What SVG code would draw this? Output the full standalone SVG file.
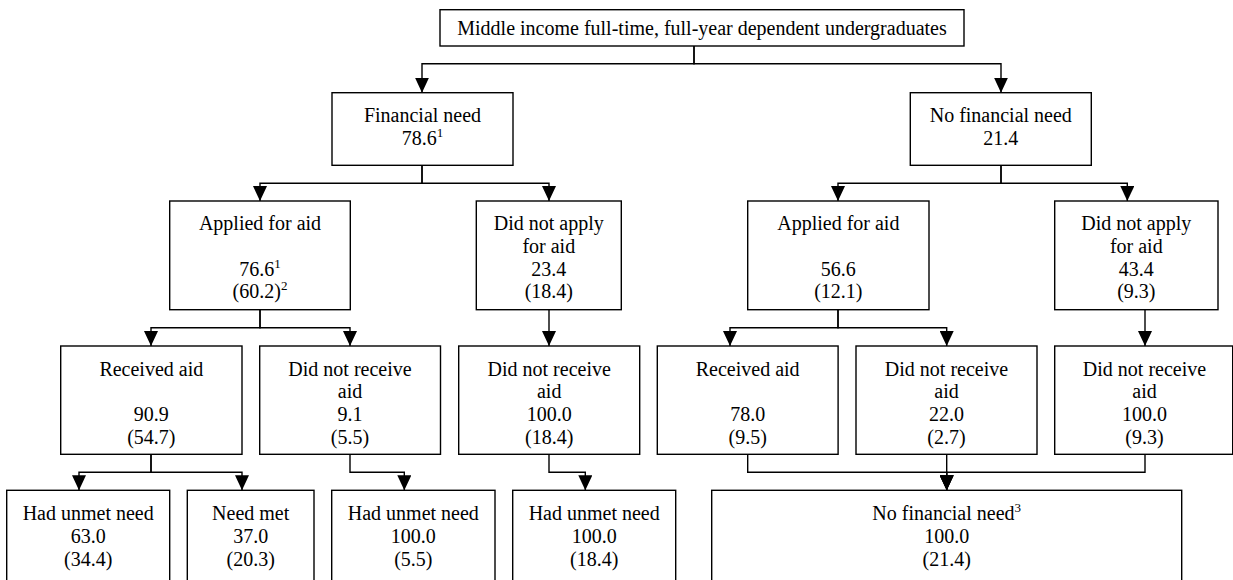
<svg xmlns="http://www.w3.org/2000/svg" width="1233" height="580" viewBox="0 0 1233 580">
<style>
.box{fill:#fff;stroke:#000;stroke-width:1.4}
.t{font-family:"Liberation Serif","Times New Roman",serif;font-size:20px;fill:#000;text-anchor:middle}
.sup{font-size:13px}
.c{fill:none;stroke:#000;stroke-width:1.4}
</style>
<defs>
<marker id="ah" viewBox="0 0 15 14" refX="15" refY="7" markerWidth="15" markerHeight="14" markerUnits="userSpaceOnUse" orient="auto">
<path d="M0,0 L15,7 L0,14 Z" fill="#000"/>
</marker>
</defs>
<rect width="1233" height="580" fill="#fff"/>
<g id="connectors">
<path class="c" d="M694,46 V63.7 H422 V92.7" marker-end="url(#ah)"/>
<path class="c" d="M694,46 V63.7 H1001 V92.7" marker-end="url(#ah)"/>
<path class="c" d="M422,165.3 V183.3 H260 V201" marker-end="url(#ah)"/>
<path class="c" d="M422,165.3 V183.3 H549 V201" marker-end="url(#ah)"/>
<path class="c" d="M1001,165.3 V183.3 H838 V201" marker-end="url(#ah)"/>
<path class="c" d="M1001,165.3 V183.3 H1127.3 V201" marker-end="url(#ah)"/>
<path class="c" d="M260,309.7 V327.7 H151 V346" marker-end="url(#ah)"/>
<path class="c" d="M260,309.7 V327.7 H350 V346" marker-end="url(#ah)"/>
<path class="c" d="M549,309.7 V346" marker-end="url(#ah)"/>
<path class="c" d="M838,309.7 V327.7 H730 V346" marker-end="url(#ah)"/>
<path class="c" d="M838,309.7 V327.7 H946.7 V346" marker-end="url(#ah)"/>
<path class="c" d="M1145,309.7 V346" marker-end="url(#ah)"/>
<path class="c" d="M151,454.3 V472.3 H79 V490.3" marker-end="url(#ah)"/>
<path class="c" d="M151,454.3 V472.3 H242 V490.3" marker-end="url(#ah)"/>
<path class="c" d="M350,454.3 V472.3 H404.3 V490.3" marker-end="url(#ah)"/>
<path class="c" d="M549,454.3 V472.3 H585.3 V490.3" marker-end="url(#ah)"/>
<path class="c" d="M747.7,454.3 V472.3 H946.7 V490.3" marker-end="url(#ah)"/>
<path class="c" d="M946.7,454.3 V490.3" marker-end="url(#ah)"/>
<path class="c" d="M1145,454.3 V472.3 H946.7 V490.3" marker-end="url(#ah)"/>
</g>
<g id="root">
<rect class="box" x="440" y="9.7" width="524" height="36.3"/>
<text class="t" x="702" y="35">Middle income full-time, full-year dependent undergraduates</text>
</g>
<g id="fin-need">
<rect class="box" x="332" y="92.7" width="181" height="72.6"/>
<text class="t" x="422.5" y="122">Financial need</text>
<text class="t" x="422.5" y="145">78.6<tspan class="sup" dy="-8">1</tspan></text>
</g>
<g id="no-fin-need">
<rect class="box" x="910.3" y="92.7" width="181" height="72.6"/>
<text class="t" x="1000.8" y="122">No financial need</text>
<text class="t" x="1000.8" y="145">21.4</text>
</g>
<g id="fn-applied">
<rect class="box" x="169.7" y="201" width="180.6" height="108.7"/>
<text class="t" x="260" y="230">Applied for aid</text>
<text class="t" x="260" y="275.5">76.6<tspan class="sup" dy="-8">1</tspan></text>
<text class="t" x="260" y="298.2">(60.2)<tspan class="sup" dy="-8">2</tspan></text>
</g>
<g id="fn-not-applied">
<rect class="box" x="476.3" y="201" width="145" height="108.7"/>
<text class="t" x="548.8" y="230">Did not apply</text>
<text class="t" x="548.8" y="252.7">for aid</text>
<text class="t" x="548.8" y="275.5">23.4</text>
<text class="t" x="548.8" y="298.2">(18.4)</text>
</g>
<g id="nfn-applied">
<rect class="box" x="747.7" y="201" width="181.3" height="108.7"/>
<text class="t" x="838.3" y="230">Applied for aid</text>
<text class="t" x="838.3" y="275.5">56.6</text>
<text class="t" x="838.3" y="298.2">(12.1)</text>
</g>
<g id="nfn-not-applied">
<rect class="box" x="1054.7" y="201" width="163.3" height="108.7"/>
<text class="t" x="1136.3" y="230">Did not apply</text>
<text class="t" x="1136.3" y="252.7">for aid</text>
<text class="t" x="1136.3" y="275.5">43.4</text>
<text class="t" x="1136.3" y="298.2">(9.3)</text>
</g>
<g id="fn-received">
<rect class="box" x="60.7" y="346" width="181.3" height="108.3"/>
<text class="t" x="151.3" y="375.7">Received aid</text>
<text class="t" x="151.3" y="421">90.9</text>
<text class="t" x="151.3" y="443.7">(54.7)</text>
</g>
<g id="fn-not-received">
<rect class="box" x="259.7" y="346" width="180.8" height="108.3"/>
<text class="t" x="350" y="375.7">Did not receive</text>
<text class="t" x="350" y="398.3">aid</text>
<text class="t" x="350" y="421">9.1</text>
<text class="t" x="350" y="443.7">(5.5)</text>
</g>
<g id="fn-na-not-received">
<rect class="box" x="458.7" y="346" width="181" height="108.3"/>
<text class="t" x="549.2" y="375.7">Did not receive</text>
<text class="t" x="549.2" y="398.3">aid</text>
<text class="t" x="549.2" y="421">100.0</text>
<text class="t" x="549.2" y="443.7">(18.4)</text>
</g>
<g id="nfn-received">
<rect class="box" x="657.3" y="346" width="180.8" height="108.3"/>
<text class="t" x="747.7" y="375.7">Received aid</text>
<text class="t" x="747.7" y="421">78.0</text>
<text class="t" x="747.7" y="443.7">(9.5)</text>
</g>
<g id="nfn-not-received">
<rect class="box" x="856" y="346" width="181" height="108.3"/>
<text class="t" x="946.5" y="375.7">Did not receive</text>
<text class="t" x="946.5" y="398.3">aid</text>
<text class="t" x="946.5" y="421">22.0</text>
<text class="t" x="946.5" y="443.7">(2.7)</text>
</g>
<g id="nfn-na-not-received">
<rect class="box" x="1054.7" y="346" width="178" height="108.3"/>
<text class="t" x="1144.5" y="375.7">Did not receive</text>
<text class="t" x="1144.5" y="398.3">aid</text>
<text class="t" x="1144.5" y="421">100.0</text>
<text class="t" x="1144.5" y="443.7">(9.3)</text>
</g>
<g id="unmet-1">
<rect class="box" x="6.7" y="490.3" width="163" height="100"/>
<text class="t" x="88.2" y="520">Had unmet need</text>
<text class="t" x="88.2" y="543">63.0</text>
<text class="t" x="88.2" y="566">(34.4)</text>
</g>
<g id="need-met">
<rect class="box" x="187.3" y="490.3" width="126.7" height="100"/>
<text class="t" x="250.7" y="520">Need met</text>
<text class="t" x="250.7" y="543">37.0</text>
<text class="t" x="250.7" y="566">(20.3)</text>
</g>
<g id="unmet-2">
<rect class="box" x="331.7" y="490.3" width="163.3" height="100"/>
<text class="t" x="413.3" y="520">Had unmet need</text>
<text class="t" x="413.3" y="543">100.0</text>
<text class="t" x="413.3" y="566">(5.5)</text>
</g>
<g id="unmet-3">
<rect class="box" x="512.7" y="490.3" width="163" height="100"/>
<text class="t" x="594.2" y="520">Had unmet need</text>
<text class="t" x="594.2" y="543">100.0</text>
<text class="t" x="594.2" y="566">(18.4)</text>
</g>
<g id="no-need-total">
<rect class="box" x="711.7" y="490.3" width="470" height="100"/>
<text class="t" x="946.7" y="520">No financial need<tspan class="sup" dy="-8">3</tspan></text>
<text class="t" x="946.7" y="543">100.0</text>
<text class="t" x="946.7" y="566">(21.4)</text>
</g>
</svg>
